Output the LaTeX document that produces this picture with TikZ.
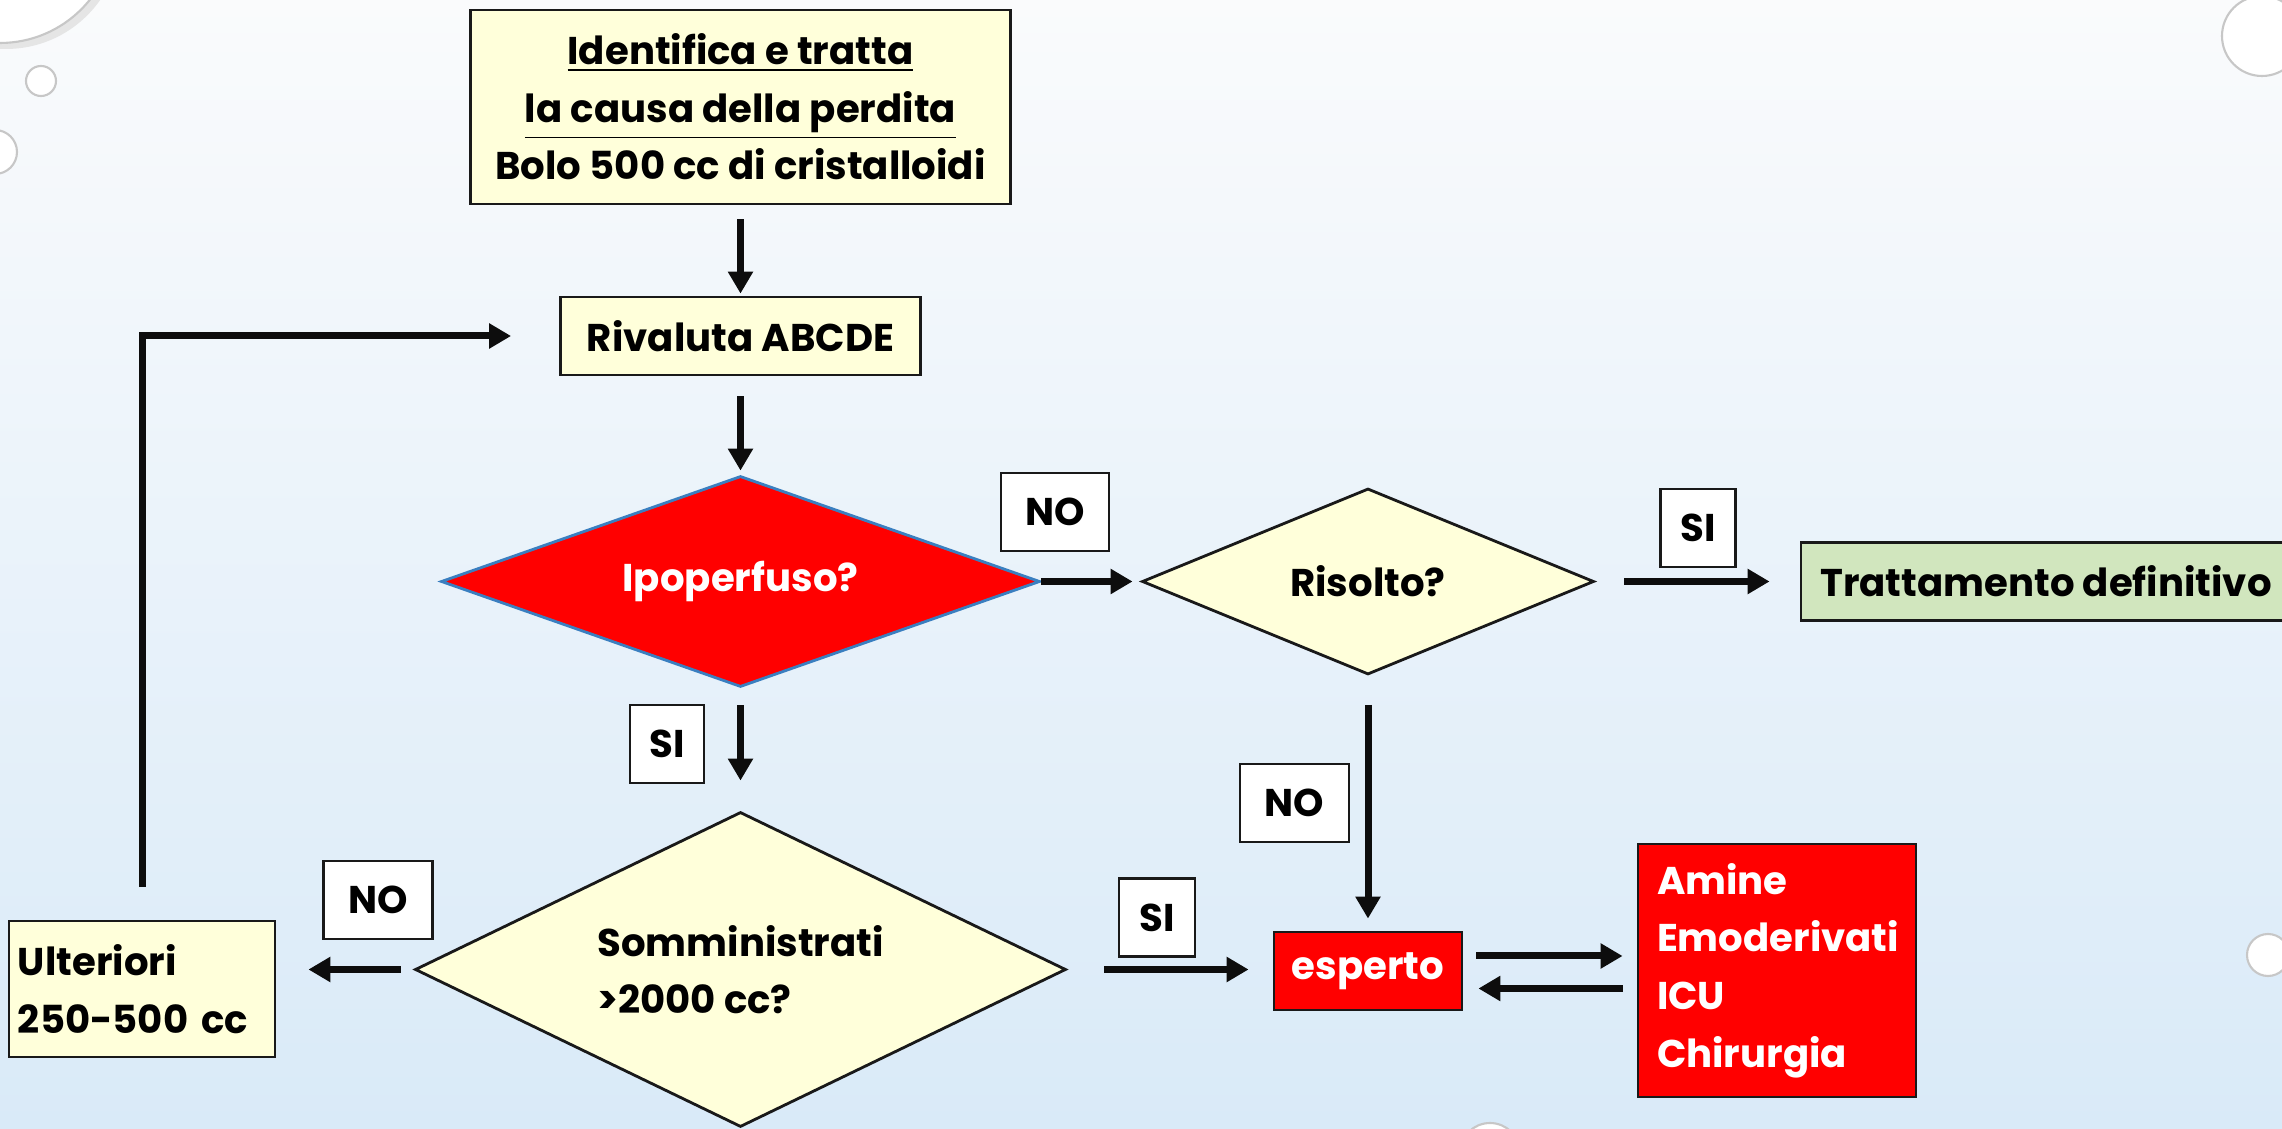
\documentclass[tikz,border=0pt]{standalone}
\usepackage{fontspec}
\setmainfont{Poppins}
\usetikzlibrary{shapes.geometric,arrows.meta,positioning}
\definecolor{pale}{HTML}{FFFFDA}
\definecolor{alarm}{HTML}{FF0000}
\definecolor{mint}{HTML}{D1E6BE}
\definecolor{rim}{HTML}{3A7FC0}
\definecolor{bgtop}{HTML}{FAFBFC}
\definecolor{bgbot}{HTML}{D9EAF8}
\newcommand{\slidefont}{\fontsize{11pt}{16.4pt}\selectfont\bfseries}
\tikzset{
  box/.style={rectangle, draw=black!90, line width=0.8pt, fill=pale, font=\slidefont, align=center, inner sep=0pt},
  query/.style={diamond, draw=black!90, line width=0.8pt, fill=pale, font=\slidefont, align=center, inner sep=0pt},
  tag/.style={rectangle, draw=black!90, line width=0.8pt, fill=white, font=\slidefont, minimum height=7.8mm, inner sep=0pt},
  connect/.style={-{Triangle[length=2.2mm,width=2.4mm]}, line width=0.7mm, black!95},
  drop/.style={fill=white, draw=black!22, line width=0.6pt}
}

\begin{document}
\begin{tikzpicture}
  \useasboundingbox (0,0) rectangle (22.82,11.28);
  \clip (0,0) rectangle (22.82,11.28);
  \shade[top color=bgtop, bottom color=bgbot] (0,0) rectangle (22.82,11.28);

  % droplets
  \fill[black!10] (0.06,11.94) circle (1.15);
  \draw[drop] (0,12.0) circle (1.15);
  \draw[drop] (0.41,10.47) circle (0.15);
  \draw[drop] (-0.05,9.76) circle (0.22);
  \draw[drop] (22.62,10.92) circle (0.40);
  \draw[drop] (22.68,1.73) circle (0.21);
  \draw[drop] (14.9,-0.25) circle (0.30);

  % main column
  \node[box, minimum width=54mm, minimum height=19.4mm] (cause) at (7.405,10.21)
    {\underline{Identifica e tratta}\\\underline{la causa della perdita}\\Bolo 500 cc di cristalloidi};
  \node[box, minimum width=36mm, minimum height=7.8mm] (abcde) at (7.405,7.92) {Rivaluta ABCDE};
  \node[query, fill=alarm, draw=rim, text=white, shape aspect=2.84, minimum width=59.9mm, minimum height=21.1mm] (ipo) at (7.405,5.465) {Ipoperfuso?};
  \node[query, shape aspect=2.07, minimum width=65.1mm, minimum height=31.5mm, align=left] (tot) at (7.405,1.585) {Somministrati\\>2000 cc?};
  \node[box, minimum width=26.6mm, minimum height=13.6mm, align=left, text width=24.8mm] (more) at (1.42,1.39) {Ulteriori\\250-500 cc};

  % right side
  \node[query, shape aspect=2.43, minimum width=45.2mm, minimum height=18.6mm] (ris) at (13.68,5.465) {Risolto?};
  \node[box, fill=mint, minimum width=49mm, minimum height=7.8mm] (def) at (20.46,5.465) {Trattamento definitivo};
  \node[box, fill=alarm, text=white, minimum width=18.8mm, minimum height=7.8mm] (exp) at (13.68,1.57) {esperto};
  \node[box, fill=alarm, text=white, align=left, text width=24mm, minimum width=27.8mm, minimum height=25.3mm] (care) at (17.77,1.575)
    {Amine\\Emoderivati\\ICU\\Chirurgia};

  % answers
  \node[tag, minimum width=10.8mm] (no1) at (10.55,6.16) {NO};
  \node[tag, minimum width=7.5mm] (si1) at (16.98,6.00) {SI};
  \node[tag, minimum width=7.4mm] (si2) at (6.67,3.84) {SI};
  \node[tag, minimum width=10.9mm] (no2) at (3.78,2.28) {NO};
  \node[tag, minimum width=10.9mm] (no3) at (12.945,3.25) {NO};
  \node[tag, minimum width=7.6mm] (si3) at (11.57,2.105) {SI};

  % arrows
  \draw[connect, shorten <=1.4mm, shorten >=0.2mm] (cause) -- (abcde);
  \draw[connect, shorten <=2mm, shorten >=0.4mm] (abcde) -- (ipo);
  \draw[connect, shorten >=0.8mm] (ipo) -- (ris);
  \draw[connect, shorten <=2.9mm, shorten >=3mm] (ris) -- (def);
  \draw[connect, shorten <=1.7mm, shorten >=3mm] (ipo) -- (tot);
  \draw[connect, shorten <=1.3mm, shorten >=3.2mm] (tot.west) -- (tot.west -| more.east);
  \draw[connect, shorten <=3.3mm, shorten >=4.8mm] (more.north) |- (abcde.west);
  \draw[connect, shorten <=2.9mm, shorten >=1.2mm] (ris) -- (exp);
  \draw[connect, shorten <=3.7mm, shorten >=2.4mm] (tot.east) -- (tot.east -| exp.west);
  \draw[connect, shorten <=1.3mm, shorten >=1.4mm] ([yshift=1.5mm]exp.east) -- ([yshift=1.5mm]exp.east -| care.west);
  \draw[connect, shorten <=1.4mm, shorten >=1.5mm] ([yshift=-1.8mm]care.west) -- ([yshift=-1.8mm]care.west -| exp.east);
\end{tikzpicture}
\end{document}
